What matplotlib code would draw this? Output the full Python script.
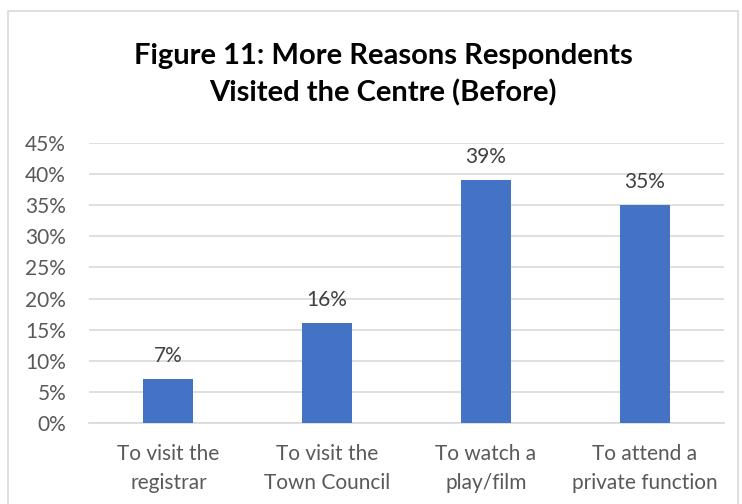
import matplotlib
matplotlib.use("Agg")
import matplotlib.pyplot as plt
from matplotlib.patches import Rectangle
from matplotlib.ticker import MultipleLocator, FuncFormatter

categories = ["To visit the\nregistrar", "To visit the\nTown Council",
              "To watch a\nplay/film", "To attend a\nprivate function"]
values = [7, 16, 39, 35]
title = "Figure 11: More Reasons Respondents\nVisited the Centre (Before)"

plt.rcParams["font.family"] = ["Lato", "DejaVu Sans"]

fig = plt.figure(figsize=(7.42, 5.04), dpi=100)
fig.patch.set_facecolor("white")

# outer chart border
fig.add_artist(Rectangle((8 / 742, -0.01), 730 / 742, 1 - 11 / 504 + 0.01,
                         transform=fig.transFigure, fill=False,
                         edgecolor="#d9d9d9", linewidth=1.2))

ax = fig.add_axes([89 / 742, 1 - 423 / 504, (724 - 89) / 742, (423 - 143) / 504])
x = range(len(categories))
bars = ax.bar(x, values, width=0.315, color="#4472c4", zorder=3)

for xi, v in zip(x, values):
    ax.annotate(f"{v}%", (xi, v), xytext=(0, 17), textcoords="offset points",
                ha="center", va="center", fontsize=15, color="#404040")

ax.set_xlim(-0.5, 3.5)
ax.set_ylim(0, 45)
ax.yaxis.set_major_locator(MultipleLocator(5))
ax.yaxis.set_major_formatter(FuncFormatter(lambda v, p: f"{int(v)}%"))
ax.grid(axis="y", color="#d9d9d9", linewidth=1.2, zorder=0)
ax.set_axisbelow(True)
for s in ["top", "right", "left"]:
    ax.spines[s].set_visible(False)
ax.spines["bottom"].set_color("#d9d9d9")
ax.spines["bottom"].set_linewidth(1.2)
ax.tick_params(axis="both", length=0, labelsize=15, labelcolor="#595959")
ax.tick_params(axis="y", pad=16.5)
ax.tick_params(axis="x", pad=15)
ax.set_xticks(list(x))
ax.set_xticklabels(categories, linespacing=1.6)

fig.text(383 / 742, 1 - 75 / 504, title, ha="center", va="center",
         fontsize=21, fontweight="bold", color="black", linespacing=1.45)

fig.savefig("out.png", dpi=100)
